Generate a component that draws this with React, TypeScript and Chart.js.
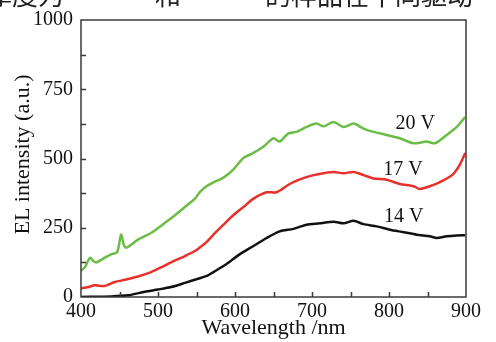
import React, { useEffect, useRef } from 'react';
import { Chart, registerables } from 'chart.js';

Chart.register(...registerables);

// ---- data ----
const greenWl = [400, 405, 409, 412, 416, 420, 431, 439, 447, 452, 456, 459, 474, 491, 500, 517, 535, 548, 554, 563, 572, 585, 598, 611, 624, 637, 650, 658, 669, 680, 693, 706, 715, 728, 741, 754, 767, 780, 797, 814, 832, 849, 860, 875, 888, 899];
const greenVals = [95, 107, 130, 142, 130, 125, 142, 154, 162, 225, 185, 178, 207, 231, 249, 284, 325, 355, 378, 400, 414, 431, 461, 502, 520, 543, 573, 561, 590, 596, 614, 626, 616, 632, 614, 626, 608, 596, 585, 573, 555, 561, 555, 585, 614, 650];

const redWl = [400, 409, 418, 431, 444, 457, 474, 491, 504, 517, 535, 548, 554, 563, 572, 585, 598, 611, 624, 641, 654, 671, 688, 702, 715, 728, 741, 754, 767, 780, 797, 814, 832, 840, 857, 870, 883, 892, 899];
const redVals = [31, 36, 42, 40, 54, 62, 74, 90, 107, 125, 148, 166, 178, 198, 225, 261, 296, 325, 355, 378, 378, 408, 428, 440, 447, 451, 447, 451, 440, 428, 423, 408, 400, 390, 404, 420, 443, 478, 520];

const blackWl = [400, 439, 461, 483, 500, 517, 535, 552, 565, 572, 589, 606, 624, 641, 658, 676, 693, 710, 728, 741, 754, 767, 784, 801, 819, 836, 853, 862, 875, 888, 899];
const blackVals = [0, 2, 6, 19, 27, 36, 51, 66, 78, 90, 119, 154, 184, 213, 237, 246, 261, 266, 272, 266, 275, 263, 255, 243, 234, 225, 219, 213, 219, 222, 223];

const seriesNames = ['20 V', '17 V', '14 V'];
const seriesColors = ['#6cbd45', '#e8312b', '#111111'];
const labelWl = [834, 818, 819];
const labelVal = [626, 460, 290];

const xMin = 400;
const xMax = 900;
const xStep = 100;
const xMinorStep = 50;
const yMin = 0;
const yMax = 1000;
const yStep = 250;
const yMinorStep = 125;

const xTitle = 'Wavelength /nm';
const yTitle = 'EL intensity (a.u.)';
const captionParts = [
  { text: '厚度为', at: -14 },
  { text: '和', at: 155 },
  { text: '的样品在不同驱动', at: 265 },
];

const FONT = '"Liberation Serif", "DejaVu Serif", serif';

const toPoints = (xs: number[], ys: number[]) => xs.map((x, i) => ({ x, y: ys[i] }));

const decorPlugin = {
  id: 'decor',
  afterDraw(chart: any) {
    const { ctx, chartArea } = chart;
    const xs = chart.scales.x;
    const ys = chart.scales.y;
    const { left, right, top, bottom } = chartArea;
    ctx.save();
    // frame
    ctx.strokeStyle = '#3a3a3a';
    ctx.lineWidth = 1.5;
    ctx.strokeRect(left, top, right - left, bottom - top);
    // inward ticks
    ctx.beginPath();
    for (let v = xMin + xMinorStep; v < xMax; v += xMinorStep) {
      const px = Math.round(xs.getPixelForValue(v)) + 0.5;
      ctx.moveTo(px, bottom);
      ctx.lineTo(px, bottom - 5);
    }
    for (let v = yMin + yMinorStep; v < yMax; v += yMinorStep) {
      const py = Math.round(ys.getPixelForValue(v)) + 0.5;
      ctx.moveTo(left, py);
      ctx.lineTo(left + 5, py);
    }
    ctx.stroke();

    // series labels
    ctx.fillStyle = '#111';
    ctx.font = `20px ${FONT}`;
    ctx.textAlign = 'center';
    ctx.textBaseline = 'middle';
    seriesNames.forEach((name, i) => {
      ctx.fillText(name, xs.getPixelForValue(labelWl[i]), ys.getPixelForValue(labelVal[i]));
    });

    // axis titles
    ctx.font = `22px ${FONT}`;
    ctx.fillText(xTitle, (left + right) / 2, 328);
    ctx.save();
    ctx.translate(23, (top + bottom) / 2 - 4);
    ctx.rotate(-Math.PI / 2);
    ctx.fillText(yTitle, 0, 0);
    ctx.restore();

    // cropped caption at the very top
    ctx.font = '26px "Noto Sans CJK SC"';
    ctx.textAlign = 'left';
    ctx.textBaseline = 'alphabetic';
    ctx.fillStyle = '#222';
    captionParts.forEach((p) => {
      ctx.fillText(p.text, p.at, 5);
    });
    ctx.restore();
  },
};

export default function App() {
  const ref = useRef<HTMLCanvasElement | null>(null);

  useEffect(() => {
    document.body.style.margin = '0';
    const canvas = ref.current;
    if (!canvas) return;
    const chart = new Chart(canvas, {
      type: 'line',
      data: {
        datasets: [
          { label: seriesNames[0], data: toPoints(greenWl, greenVals), borderColor: seriesColors[0] },
          { label: seriesNames[1], data: toPoints(redWl, redVals), borderColor: seriesColors[1] },
          { label: seriesNames[2], data: toPoints(blackWl, blackVals), borderColor: seriesColors[2] },
        ].map((d) => ({ ...d, borderWidth: 2.5, pointRadius: 0, tension: 0.25, fill: false })),
      },
      options: {
        animation: false,
        responsive: false,
        devicePixelRatio: 1,
        layout: { padding: { left: 0, top: 14, right: 30, bottom: 0 } },
        plugins: { legend: { display: false }, tooltip: { enabled: false } },
        scales: {
          x: {
            type: 'linear',
            min: xMin,
            max: xMax,
            grid: { display: false, drawTicks: false },
            border: { display: false },
            ticks: { stepSize: xStep, autoSkip: false, padding: 3, color: '#111', font: { family: FONT, size: 20 }, callback: (v: any) => String(v) },
            afterFit: (s: any) => {
              s.height = 45;
            },
          },
          y: {
            type: 'linear',
            min: yMin,
            max: yMax,
            grid: { display: false, drawTicks: false },
            border: { display: false },
            ticks: { stepSize: yStep, autoSkip: false, padding: 8, color: '#111', font: { family: FONT, size: 20 }, callback: (v: any) => String(v) },
            afterFit: (s: any) => {
              s.width = 81;
            },
          },
        },
      },
      plugins: [decorPlugin],
    });
    return () => chart.destroy();
  }, []);

  return (
    <div style={{ width: 496, height: 342, background: '#fff' }}>
      <canvas ref={ref} width={496} height={342} style={{ display: 'block' }} />
    </div>
  );
}
